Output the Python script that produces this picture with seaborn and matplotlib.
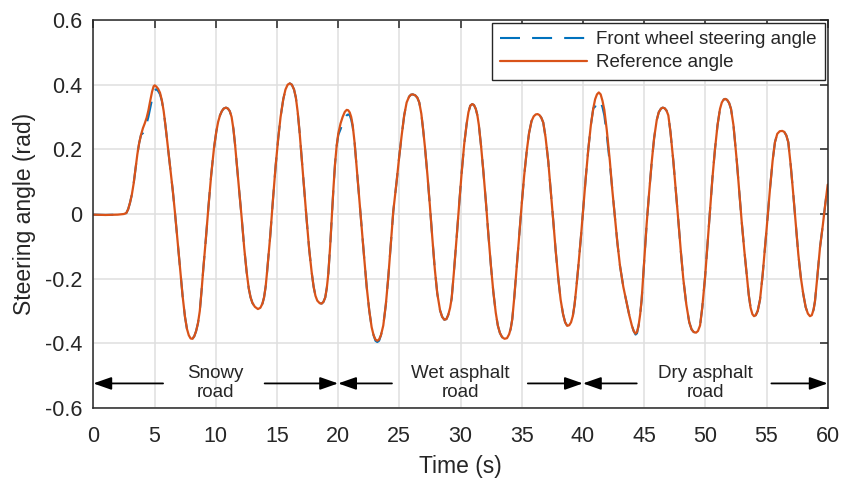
import numpy as np
import pandas as pd
import matplotlib
matplotlib.use("Agg")
import matplotlib.pyplot as plt
import seaborn as sns
from matplotlib.patches import FancyArrowPatch

# ---------------- data ----------------
time_s = [0, 1, 2, 2.5, 2.7, 2.85, 3.0, 3.15, 3.3, 3.45, 3.6, 3.75, 3.9, 4.05, 4.2, 4.36, 4.5,
          4.65, 4.8, 4.93, 5.02, 5.15, 5.3, 5.45, 5.6, 5.75, 5.9,
          6.05, 6.27, 6.5, 6.67, 6.9, 7.08, 7.3, 7.49, 7.65, 7.8, 7.95, 8.1, 8.25, 8.4, 8.55,
          8.7, 8.85, 8.99, 9.2, 9.4, 9.63, 9.86, 10.05, 10.2, 10.35, 10.5, 10.65, 10.84, 11.0,
          11.15, 11.3, 11.45, 11.58, 11.7, 11.9, 12.12, 12.33, 12.53, 12.7, 12.85, 13.0, 13.2,
          13.45, 13.65, 13.82, 13.95, 14.08, 14.2, 14.45, 14.7, 14.9, 15.11, 15.3, 15.52, 15.7,
          15.88, 16.05, 16.22, 16.4, 16.55, 16.7, 16.85, 17.03, 17.23, 17.44, 17.64, 17.84, 18.0,
          18.15, 18.3, 18.5, 18.66, 18.8, 18.95, 19.08, 19.2, 19.35, 19.48, 19.62, 19.75, 19.88,
          20.02, 20.2, 20.37, 20.55, 20.7, 20.82, 20.95, 21.07, 21.19, 21.35, 21.52, 21.72, 21.93,
          22.13, 22.34, 22.55, 22.74, 22.9, 23.05, 23.2, 23.35, 23.5, 23.69, 23.9, 24.1, 24.3,
          24.51, 24.78, 25.0, 25.2, 25.4, 25.6, 25.8, 25.95, 26.1, 26.3, 26.47, 26.63, 26.8, 26.95,
          27.1, 27.3, 27.5, 27.7, 27.9, 28.1, 28.33, 28.5, 28.68, 28.85, 29.0, 29.15, 29.28,
          29.45, 29.69, 29.9, 30.1, 30.3, 30.5, 30.65, 30.8, 30.96, 31.1, 31.25, 31.38, 31.5,
          31.68, 31.86, 32.07, 32.27, 32.48, 32.68, 32.88, 33.05, 33.22, 33.4, 33.6, 33.8, 33.97,
          34.1, 34.23, 34.4, 34.59, 34.8, 35.0, 35.2, 35.41, 35.6, 35.8, 35.98, 36.15, 36.3,
          36.45, 36.6, 36.76, 36.95, 37.17, 37.38, 37.58, 37.78, 37.99, 38.18, 38.38, 38.55,
          38.72, 38.88, 39.03, 39.18, 39.32, 39.47, 39.62, 39.83, 40.03, 40.24, 40.44, 40.65,
          40.85, 41.0, 41.15, 41.3, 41.45, 41.6, 41.75, 41.95, 42.2, 42.4, 42.62, 42.82, 43.03,
          43.3, 43.58, 43.8, 44.0, 44.15, 44.3, 44.42, 44.55, 44.68, 44.8, 45.0, 45.21, 45.42,
          45.62, 45.82, 46.03, 46.2, 46.38, 46.52, 46.68, 46.83, 46.98, 47.15, 47.39, 47.6, 47.8,
          48.0, 48.2, 48.45, 48.69, 48.88, 49.05, 49.24, 49.4, 49.57, 49.75, 49.98, 50.18, 50.38,
          50.58, 50.79, 51.0, 51.2, 51.35, 51.5, 51.63, 51.78, 51.95, 52.1, 52.3, 52.57, 52.77,
          52.97, 53.18, 53.38, 53.55, 53.7, 53.85, 53.98, 54.12, 54.28, 54.47, 54.68, 54.88,
          55.09, 55.29, 55.5, 55.69, 55.88, 56.08, 56.29, 56.45, 56.62, 56.78, 56.98, 57.19,
          57.4, 57.6, 57.8, 58.0, 58.2, 58.38, 58.55, 58.7, 58.85, 58.96, 59.15, 59.37, 59.6,
          59.8, 60.0]

reference_angle = [-0.002, -0.003, -0.002, 0.0, 0.003, 0.015, 0.035, 0.06, 0.095, 0.14, 0.185,
                   0.22, 0.245, 0.265, 0.28, 0.298, 0.32, 0.35, 0.378, 0.395, 0.398, 0.394,
                   0.387, 0.375, 0.352, 0.318, 0.272,
                   0.222, 0.15, 0.07, 0.005, -0.09, -0.165, -0.255, -0.318, -0.355, -0.375,
                   -0.385, -0.386, -0.378, -0.362, -0.338, -0.3, -0.235, -0.168, -0.075, 0.019,
                   0.12, 0.204, 0.255, 0.285, 0.305, 0.318, 0.326, 0.329, 0.326, 0.318, 0.3,
                   0.262, 0.215, 0.163, 0.08, -0.011, -0.105, -0.18, -0.23, -0.258, -0.275,
                   -0.287, -0.294, -0.29, -0.277, -0.258, -0.225, -0.178, -0.07, 0.055, 0.15,
                   0.235, 0.3, 0.355, 0.385, 0.4, 0.404, 0.4, 0.385, 0.36, 0.315, 0.255, 0.17,
                   0.075, -0.022, -0.11, -0.18, -0.225, -0.253, -0.268, -0.276, -0.277, -0.272,
                   -0.258, -0.228, -0.185, -0.1, -0.015, 0.08, 0.155, 0.21, 0.25, 0.28, 0.3,
                   0.316, 0.322, 0.321, 0.314, 0.3, 0.275, 0.22, 0.142, 0.05, -0.042, -0.135,
                   -0.227, -0.3, -0.35, -0.375, -0.388, -0.392, -0.388, -0.375, -0.345, -0.28,
                   -0.196, -0.095, 0.009, 0.1, 0.18, 0.245, 0.305, 0.345, 0.363, 0.369, 0.37,
                   0.367, 0.36, 0.345, 0.31, 0.26, 0.205, 0.12, 0.025, -0.075, -0.17, -0.245,
                   -0.298, -0.318, -0.327, -0.325, -0.312, -0.29, -0.26, -0.185, -0.07, 0.035,
                   0.13, 0.215, 0.278, 0.315, 0.335, 0.34, 0.337, 0.325, 0.305, 0.275, 0.21,
                   0.135, 0.04, -0.06, -0.158, -0.24, -0.305, -0.345, -0.368, -0.381, -0.386,
                   -0.384, -0.372, -0.355, -0.325, -0.255, -0.165, -0.065, 0.03, 0.118, 0.194,
                   0.25, 0.287, 0.302, 0.308, 0.309, 0.306, 0.298, 0.283, 0.237, 0.163, 0.07,
                   -0.022, -0.115, -0.2, -0.265, -0.31, -0.335, -0.346, -0.344, -0.335, -0.315,
                   -0.28, -0.225, -0.165, -0.075, 0.019, 0.115, 0.2, 0.275, 0.327, 0.355, 0.37,
                   0.376, 0.37, 0.35, 0.322, 0.26, 0.165, 0.075, -0.011, -0.09, -0.16, -0.225,
                   -0.275, -0.315, -0.345, -0.362, -0.37, -0.365, -0.345, -0.31, -0.265, -0.15,
                   -0.03, 0.07, 0.16, 0.235, 0.29, 0.315, 0.326, 0.329, 0.327, 0.32, 0.305, 0.255,
                   0.163, 0.07, -0.022, -0.115, -0.2, -0.28, -0.335, -0.357, -0.365, -0.367,
                   -0.362, -0.345, -0.29, -0.196, -0.095, 0.009, 0.11, 0.2, 0.275, 0.325, 0.345,
                   0.354, 0.356, 0.353, 0.343, 0.325, 0.275, 0.165, 0.072, -0.022, -0.11, -0.185,
                   -0.25, -0.29, -0.31, -0.316, -0.313, -0.3, -0.265, -0.19, -0.104, -0.01, 0.08,
                   0.165, 0.222, 0.248, 0.256, 0.257, 0.254, 0.243, 0.222, 0.15, 0.06, -0.035,
                   -0.125, -0.195, -0.247, -0.288, -0.308, -0.316, -0.313, -0.295, -0.27, -0.195,
                   -0.104, -0.035, 0.03, 0.091]

# where the measured front-wheel angle departs visibly from the reference
front_wheel_times = [4.05, 4.2, 4.36, 4.5, 4.65, 4.8, 4.93, 5.02, 5.15, 5.3, 5.45, 5.6,
                     20.02, 20.2, 20.37, 20.55, 20.7, 20.82, 20.95, 21.07, 21.19,
                     23.05, 23.2, 23.35,
                     41.0, 41.15, 41.3, 41.45, 41.6, 41.75, 41.95, 42.2,
                     44.3, 44.42]
front_wheel_values = [0.25, 0.262, 0.28, 0.3, 0.328, 0.355, 0.375, 0.383, 0.386, 0.38, 0.37, 0.35,
                      0.245, 0.262, 0.28, 0.295, 0.305, 0.308, 0.305, 0.292, 0.27,
                      -0.392, -0.396, -0.392,
                      0.332, 0.347, 0.352, 0.347, 0.33, 0.305, 0.245, 0.155,
                      -0.373, -0.369]

series_names = ["Front wheel steering angle", "Reference angle"]

x_ticks = [0, 5, 10, 15, 20, 25, 30, 35, 40, 45, 50, 55, 60]
y_ticks = [-0.6, -0.4, -0.2, 0, 0.2, 0.4, 0.6]
y_tick_labels = ["-0.6", "-0.4", "-0.2", "0", "0.2", "0.4", "0.6"]

road_labels = ["Snowy\nroad", "Wet asphalt\nroad", "Dry asphalt\nroad"]
road_centers = [10, 30, 50]
road_bounds = [(0, 20), (20, 40), (40, 60)]
arrow_tails = [(5.7, 14.0), (24.4, 35.5), (44.4, 55.4)]
arrow_level = -0.524

# ---------------- assemble ----------------
front_lookup = dict(zip(front_wheel_times, front_wheel_values))
front_series = [front_lookup.get(t, v) for t, v in zip(time_s, reference_angle)]
df = pd.DataFrame({"t": time_s, "front": front_series, "ref": reference_angle})

# ---------------- style ----------------
sns.set_style("white")
plt.rcParams["font.family"] = ["Liberation Sans", "DejaVu Sans"]

BLUE = "#0072BD"
ORANGE = "#D95319"
DARK = "#262626"

fig = plt.figure(figsize=(8.42, 4.82), dpi=100)
ax = fig.add_axes([93.3 / 842, 1 - 408 / 482, (827.7 - 93.3) / 842, (408 - 20) / 482])

sns.lineplot(data=df, x="t", y="front", ax=ax, color=BLUE, lw=1.5,
             linestyle=(0, (9.6, 5.8)), label=series_names[0],
             estimator=None, sort=False)
sns.lineplot(data=df, x="t", y="ref", ax=ax, color=ORANGE, lw=1.6,
             label=series_names[1], estimator=None, sort=False)

ax.set_xlim(0, 60)
ax.set_ylim(-0.6, 0.6)
ax.set_xticks(x_ticks)
ax.set_xticklabels([str(v) for v in x_ticks])
ax.set_yticks(y_ticks)
ax.set_yticklabels(y_tick_labels)
ax.grid(True, color="#dfdfdf", lw=1.1)
ax.set_axisbelow(True)
for s in ax.spines.values():
    s.set_visible(True)
    s.set_color(DARK)
    s.set_linewidth(1.1)
ax.tick_params(direction="in", length=6, width=1.1, color=DARK, labelsize=15.5,
               labelcolor=DARK, top=True, right=True)
ax.tick_params(axis="x", pad=13)
ax.tick_params(axis="y", pad=8)

ax.set_xlabel("Time (s)", fontsize=16.5, color=DARK, labelpad=6)
ax.set_ylabel("Steering angle (rad)", fontsize=16.5, color=DARK, labelpad=6)

# road annotations
for (a, b), (ta, tb), lbl, c in zip(road_bounds, arrow_tails, road_labels, road_centers):
    for tail, head in ((ta, a), (tb, b)):
        arr = FancyArrowPatch((tail, arrow_level), (head, arrow_level),
                              arrowstyle="-|>,head_length=1.0,head_width=0.35",
                              mutation_scale=11, color="black", lw=1.3,
                              shrinkA=0, shrinkB=0, zorder=5)
        ax.add_patch(arr)
    ax.text(c, arrow_level, lbl, ha="center", va="center", fontsize=13.5,
            color=DARK, linespacing=1.15, zorder=5)

leg = ax.legend(loc="upper right", fontsize=13.5, handlelength=4.6, fancybox=False,
                framealpha=1, edgecolor=DARK, borderaxespad=0.15, borderpad=0.45,
                labelspacing=0.3, handletextpad=0.5)
leg.get_frame().set_linewidth(1.0)

fig.savefig("out.png", dpi=100)
